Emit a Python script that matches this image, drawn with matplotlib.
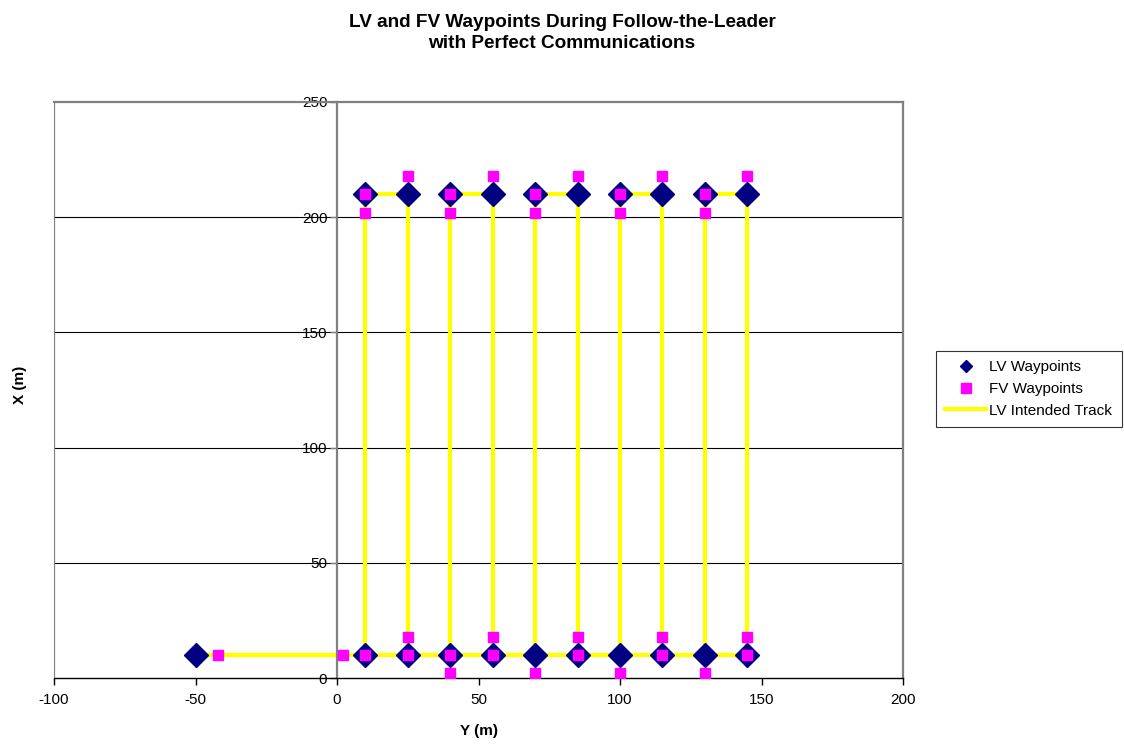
import matplotlib
matplotlib.use("Agg")
import matplotlib.pyplot as plt
from matplotlib.lines import Line2D

plt.rcParams['font.family'] = ['Liberation Sans', 'DejaVu Sans']
plt.rcParams['axes.unicode_minus'] = False

# Leader vehicle waypoints (Y, X) in metres
lv_y = [-50, 10, 10, 25, 25, 40, 40, 55, 55, 70, 70, 85, 85, 100, 100, 115, 115, 130, 130, 145, 145]
lv_x = [10, 10, 210, 210, 10, 10, 210, 210, 10, 10, 210, 210, 10, 10, 210, 210, 10, 10, 210, 210, 10]

# Intended track of the leader (closes back along the bottom row)
track_y = lv_y + [-50]
track_x = lv_x + [10]

# Follower vehicle waypoints (Y, X) in metres
fv_y = [-42, 2, 10, 10, 10, 25, 25, 25, 40, 40, 40, 40, 55, 55, 55, 70, 70, 70,
        85, 85, 85, 100, 100, 100, 115, 115, 115, 130, 130, 130, 145, 145, 145]
fv_x = [10, 10, 10, 202, 210, 218, 18, 10, 2, 10, 202, 210, 218, 18, 10, 2, 202, 210,
        218, 18, 10, 2, 202, 210, 218, 18, 10, 2, 202, 210, 218, 18, 10]

x_ticks = [-100, -50, 0, 50, 100, 150, 200]
y_ticks = [0, 50, 100, 150, 200, 250]

fig = plt.figure(figsize=(11.24, 7.44), dpi=100)
ax = fig.add_axes([54 / 1124, 66 / 744, 849 / 1124, 576 / 744])

grey = '#808080'
ax.set_xlim(-100, 200)
ax.set_ylim(0, 250)

for v in y_ticks[1:-1]:
    ax.axhline(v, color='black', lw=0.8, zorder=1)
ax.axvline(-100, color=grey, lw=1.6, zorder=1)

ax.plot(track_y, track_x, color='#FFFF00', lw=3, zorder=2, solid_capstyle='butt')
ax.plot(lv_y, lv_x, linestyle='none', marker='D', ms=12, color='#000080',
        markeredgecolor='#000080', zorder=3)
ax.plot(fv_y, fv_x, linestyle='none', marker='s', ms=7.7, color='#FF00FF',
        markeredgecolor='#FF00FF', zorder=4)

ax.spines['left'].set_position(('data', 0))
ax.spines['left'].set_color(grey)
ax.spines['left'].set_linewidth(1.6)
ax.spines['top'].set_color(grey)
ax.spines['top'].set_linewidth(1.6)
ax.spines['right'].set_color(grey)
ax.spines['right'].set_linewidth(1.6)
ax.spines['bottom'].set_color('black')
ax.spines['bottom'].set_linewidth(1.0)

ax.set_xticks(x_ticks)
ax.set_yticks(y_ticks)
ax.tick_params(axis='x', direction='out', length=5, width=1, color='black',
               labelsize=11, pad=6)
ax.tick_params(axis='y', direction='out', length=5, width=1, color=grey,
               labelsize=11, pad=2)

ax.set_xlabel('Y (m)', fontsize=11, fontweight='bold', labelpad=12)
fig.text(20 / 1124, 1 - 385 / 744, 'X (m)', rotation=90, fontsize=11,
         fontweight='bold', ha='center', va='center')

fig.text(0.5, 1 - 33 / 744, 'LV and FV Waypoints During Follow-the-Leader\nwith Perfect Communications',
         ha='center', va='center', fontsize=13.7, fontweight='bold', linespacing=1.35)

handles = [
    Line2D([], [], linestyle='none', marker='D', ms=6.5, color='#000080'),
    Line2D([], [], linestyle='none', marker='s', ms=6.5, color='#FF00FF'),
    Line2D([], [], color='#FFFF00', lw=3),
]
leg = fig.legend(handles, ['LV Waypoints', 'FV Waypoints', 'LV Intended Track'],
                 loc='center left', bbox_to_anchor=(936 / 1124, 1 - 389 / 744),
                 fontsize=11, frameon=True, fancybox=False, handlelength=2.7,
                 handletextpad=0.2, borderpad=0.6, labelspacing=0.5, borderaxespad=0)
leg.get_frame().set_edgecolor('black')
leg.get_frame().set_linewidth(0.8)

fig.savefig('out.png', dpi=100)
